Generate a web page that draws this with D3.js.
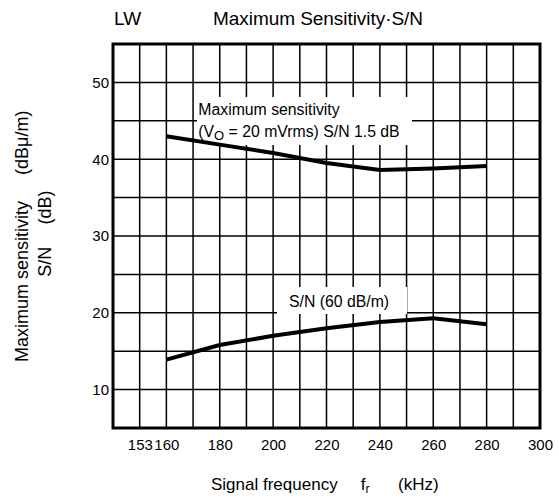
<!DOCTYPE html>
<html>
<head>
<meta charset="utf-8">
<script src="https://cdn.jsdelivr.net/npm/d3@7"></script>
<style>
  html, body { margin: 0; padding: 0; background: #fff; }
  svg { display: block; font-family: "Liberation Sans", Arial, Helvetica, sans-serif; }
</style>
</head>
<body>
<div id="chart"></div>
<script>
// ---- data ----
const frequencies = [160, 180, 200, 220, 240, 260, 280];          // kHz
const maxSensitivity = [43.0, 41.9, 40.8, 39.5, 38.6, 38.8, 39.1]; // dBµ/m
const snRatio = [13.9, 15.8, 17.0, 18.0, 18.8, 19.3, 18.5];        // dB
const xTickValues = [160, 180, 200, 220, 240, 260, 280, 300];
const xExtraLabel = "153";
const yTickValues = [10, 20, 30, 40, 50];
const xGridValues = d3.range(150, 300, 10);
const yGridValues = d3.range(10, 55, 5);

const W = 559, H = 501;
const svg = d3.select("#chart").append("svg").attr("width", W).attr("height", H);

const x = d3.scaleLinear().domain([140, 300]).range([113, 540]);
const y = d3.scaleLinear().domain([5, 55]).range([428, 44]);

// grid
const grid = svg.append("g").attr("stroke", "#000").attr("stroke-width", 1.5);
grid.selectAll("line.v").data(xGridValues).join("line")
  .attr("x1", d => x(d)).attr("x2", d => x(d))
  .attr("y1", y(55)).attr("y2", y(5));
grid.selectAll("line.h").data(yGridValues).join("line")
  .attr("y1", d => y(d)).attr("y2", d => y(d))
  .attr("x1", x(140)).attr("x2", x(300));

// label boxes (white, covering grid)
svg.append("rect").attr("x", 197).attr("y", 97).attr("width", 215).attr("height", 48).attr("fill", "#fff");
svg.append("rect").attr("x", 277).attr("y", 287).attr("width", 130).attr("height", 27).attr("fill", "#fff");

const lbl = svg.append("g").attr("font-size", "15.8px").attr("fill", "#000");
lbl.append("text").attr("x", 198.3).attr("y", 115).text("Maximum sensitivity");
const l2 = lbl.append("text").attr("x", 198.3).attr("y", 136.7);
l2.append("tspan").text("(V");
l2.append("tspan").attr("font-size", "13px").attr("dy", 3).text("O");
l2.append("tspan").attr("dy", -3).text(" = 20 mVrms) S/N 1.5 dB");
lbl.append("text").attr("x", 289).attr("y", 306.7).text("S/N (60 dB/m)");

// curves
const line = d3.line().x(d => x(d[0])).y(d => y(d[1]));
svg.append("path").datum(frequencies.map((f, i) => [f, maxSensitivity[i]]))
  .attr("d", line).attr("fill", "none").attr("stroke", "#000").attr("stroke-width", 4);
svg.append("path").datum(frequencies.map((f, i) => [f, snRatio[i]]))
  .attr("d", line).attr("fill", "none").attr("stroke", "#000").attr("stroke-width", 4);

// border
svg.append("rect").attr("x", x(140)).attr("y", y(55))
  .attr("width", x(300) - x(140)).attr("height", y(5) - y(55))
  .attr("fill", "none").attr("stroke", "#000").attr("stroke-width", 3);

// axes
const xAxis = svg.append("g").attr("transform", `translate(0,${y(5)})`)
  .call(d3.axisBottom(x).tickValues(xTickValues).tickSize(0).tickPadding(11).tickFormat(d3.format("d")));
xAxis.select(".domain").remove();
xAxis.selectAll("text").attr("font-size", "15px").attr("font-family", null).attr("fill", "#000");
// "153" label sits immediately left of "160"
xAxis.append("text").attr("x", x(160) - 13.5).attr("y", 11).attr("dy", "0.71em")
  .attr("text-anchor", "end").attr("font-size", "15px").attr("fill", "#000").text(xExtraLabel);

const yAxis = svg.append("g").attr("transform", `translate(${x(140)},0)`)
  .call(d3.axisLeft(y).tickValues(yTickValues).tickSize(0).tickPadding(4));
yAxis.select(".domain").remove();
yAxis.selectAll("text").attr("font-size", "15px").attr("font-family", null).attr("fill", "#000");

// titles
svg.append("text").attr("x", 114).attr("y", 25).attr("font-size", "19px").text("LW");
svg.append("text").attr("x", 213).attr("y", 25).attr("font-size", "19px")
  .attr("textLength", 210).attr("lengthAdjust", "spacing").text("Maximum Sensitivity·S/N");

const xt = svg.append("g").attr("font-size", "17px");
xt.append("text").attr("x", 211).attr("y", 490).text("Signal frequency");
const ft = xt.append("text").attr("x", 360.7).attr("y", 490);
ft.append("tspan").text("f");
ft.append("tspan").attr("font-size", "12px").attr("dy", 3).text("r");
xt.append("text").attr("x", 398).attr("y", 490).text("(kHz)");

const yt = svg.append("g").attr("font-size", "18px");
yt.append("text").attr("transform", "translate(28,362) rotate(-90)").text("Maximum sensitivity");
yt.append("text").attr("transform", "translate(28,175) rotate(-90)").text("(dBμ/m)");
yt.append("text").attr("transform", "translate(51,276.7) rotate(-90)").text("S/N");
yt.append("text").attr("transform", "translate(51,224.6) rotate(-90)").text("(dB)");
</script>
</body>
</html>
